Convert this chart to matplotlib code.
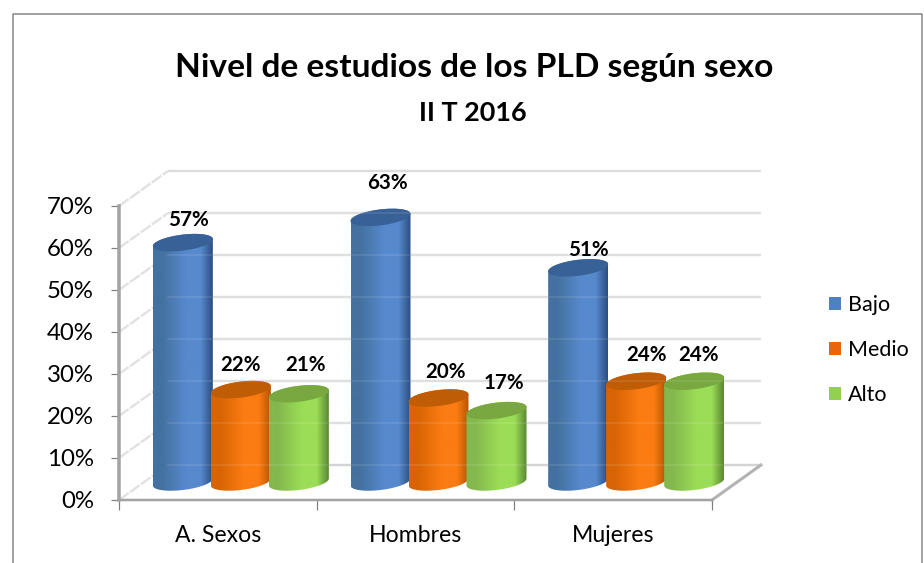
import numpy as np
import matplotlib
matplotlib.use('Agg')
import matplotlib.pyplot as plt
from matplotlib.lines import Line2D
from matplotlib.patches import Patch, PathPatch
from matplotlib.path import Path
from matplotlib.colors import LinearSegmentedColormap

W, H = 924, 563

# Datos
categorias = ['A. Sexos', 'Hombres', 'Mujeres']
series = ['Bajo', 'Medio', 'Alto']
bajo = [57, 63, 51]
medio = [22, 20, 24]
alto = [21, 17, 24]
valores_y = [0, 10, 20, 30, 40, 50, 60, 70]

# Colores: borde izq., centro, borde der., tapa
colores = {
    'Bajo': ['#44719f', '#5789cd', '#2b4f80', '#386297'],
    'Medio': ['#d86404', '#fb7c12', '#b55603', '#bf5c06'],
    'Alto': ['#84b84e', '#9bdd56', '#5a8734', '#78a83f'],
}
leyenda_color = {'Bajo': '#4f81bd', 'Medio': '#e9640a', 'Alto': '#92d050'}

# Ajuste fino de las etiquetas (px)
ajuste_etiquetas = {
    'Bajo': [(6, 23), (7, 34), (10, 18)],
    'Medio': [(0, 25), (7, 26), (10, 26)],
    'Alto': [(7, 29), (8, 28), (4, 26)],
}

plt.rcParams['font.family'] = ['Lato', 'DejaVu Sans']


def px(n):
    # pixeles a puntos (dpi 100)
    return n * 0.72


fig = plt.figure(figsize=(W / 100, H / 100), dpi=100, facecolor='white')
ax = fig.add_axes([119 / W, (H - 500) / H, 593 / W, 294 / H])
ax.set_facecolor('none')
ax.set_xlim(0, 3)
ax.set_ylim(0, 70)

# escala del eje
ux = 593 / 3
uy = 294 / 70
fondo_dx, fondo_dy = 49 / ux, 35 / uy
medio_dx, medio_dy = 23 / ux, 18 / uy

# Marco del grafico
fig.add_artist(Line2D([13 / W, 13 / W, 922 / W, 922 / W],
                      [0, 1 - 14 / H, 1 - 14 / H, 0],
                      color='#8c8c8c', lw=px(1.6)))

# Paredes: lineas de fondo y diagonales
for v in valores_y:
    c = '#cfcfcf' if v == 0 else '#dcdcdc'
    ax.plot([fondo_dx, 3 + fondo_dx], [v + fondo_dy, v + fondo_dy], color=c,
            lw=px(2.4), clip_on=False, zorder=1, solid_capstyle='butt')
    ax.plot([0, fondo_dx], [v, v + fondo_dy], color='#e2e2e2', lw=px(2.4),
            clip_on=False, zorder=1, ls=(0, (5, 0.6)))
ax.plot([3, 3 + fondo_dx], [0, fondo_dy], color='#b2b2b2', lw=px(3),
        clip_on=False, zorder=1)

# Cilindros
ancho = 60 / ux
paso = 58 / ux
a_elipse = 8 / uy
inclina = 3.5 / uy
t = np.linspace(0, 2 * np.pi, 80)
tabla = {'Bajo': bajo, 'Medio': medio, 'Alto': alto}
z = 3

for i in range(len(categorias)):
    centro = i + 0.5 + medio_dx
    for j, nombre in enumerate(series):
        v = tabla[nombre][i]
        cx = centro + (j - 1) * paso
        base = medio_dy
        tope = medio_dy + v
        izq, cen, der, tapa = colores[nombre]
        cmap = LinearSegmentedColormap.from_list(
            nombre, [(0, izq), (0.15, izq), (0.55, cen), (0.8, cen), (1, der)])
        # silueta: parte baja de la base + parte alta de la tapa
        tb = np.linspace(np.pi, 2 * np.pi, 40)
        tt = np.linspace(0, np.pi, 40)
        xs = np.r_[cx + ancho / 2 * np.cos(tb), cx + ancho / 2 * np.cos(tt)]
        ys = np.r_[base + a_elipse * np.sin(tb) + inclina * np.cos(tb),
                   tope + a_elipse * np.sin(tt) + inclina * np.cos(tt)]
        silueta = Path(np.c_[xs, ys])
        grad = np.linspace(0, 1, 120).reshape(1, -1)
        im = ax.imshow(grad, cmap=cmap, aspect='auto', zorder=z,
                       extent=[cx - ancho / 2, cx + ancho / 2,
                               base - 5, tope + 5])
        im.set_clip_path(silueta, transform=ax.transData)
        im.set_clip_box(fig.bbox)
        tx = cx + ancho / 2 * np.cos(t)
        ty = tope + a_elipse * np.sin(t) + inclina * np.cos(t)
        ax.add_patch(PathPatch(Path(np.c_[tx, ty]), facecolor=tapa,
                               edgecolor='none', clip_on=False, zorder=z + 0.1))
        z += 1
        dx, dy = ajuste_etiquetas[nombre][i]
        ax.annotate(f'{v}%', xy=(cx, medio_dy + v), xytext=(dx, dy),
                    textcoords='offset pixels', ha='center', va='center',
                    fontsize=px(20.5), fontweight='bold', color='black',
                    annotation_clip=False, zorder=50)

ax.set_xlim(0, 3)
ax.set_ylim(0, 70)

# lineas de fondo que se transparentan sobre los cilindros
for v in valores_y[:-1]:
    ax.plot([fondo_dx, 3 + fondo_dx], [v + fondo_dy, v + fondo_dy], color='white',
            alpha=0.12, lw=px(1.5), clip_on=False, zorder=40)

# Ejes
for s in ['top', 'right']:
    ax.spines[s].set_visible(False)
ax.spines['left'].set_color('#a3a3a3')
ax.spines['left'].set_linewidth(px(3.5))
ax.spines['bottom'].set_color('#a3a3a3')
ax.spines['bottom'].set_linewidth(px(2.5))
ax.set_yticks(valores_y)
ax.set_yticklabels([f'{v}%' for v in valores_y], fontsize=px(24), color='black')
ax.tick_params(axis='y', length=px(8), width=px(1.2), color='#7f7f7f', pad=px(17))
ax.set_xticks([0, 1, 2, 3])
ax.set_xticklabels([])
ax.tick_params(axis='x', which='major', length=px(10), width=px(1.2), color='#7f7f7f')
ax.set_xticks([0.5, 1.5, 2.5], minor=True)
ax.set_xticklabels(categorias, minor=True, fontsize=px(23), color='black')
ax.tick_params(axis='x', which='minor', length=0, pad=px(25))

# Titulo
fig.text(474 / W, 1 - 68 / H, 'Nivel de estudios de los PLD según sexo',
         ha='center', va='center', fontsize=px(33.5), fontweight='bold')
fig.text(473 / W, 1 - 113 / H, 'II T 2016', ha='center', va='center',
         fontsize=px(27), fontweight='bold')

# Leyenda
handles = [Patch(facecolor=leyenda_color[s], edgecolor='none', label=s) for s in series]
fig.legend(handles=handles, loc='center left',
           bbox_to_anchor=(812 / W, 1 - 350 / H), frameon=False,
           fontsize=px(21.5), handlelength=0.56, handleheight=0.56,
           handletextpad=0.3, labelspacing=1.16, borderpad=0.3)

fig.savefig('out.png', dpi=100, facecolor='white')
